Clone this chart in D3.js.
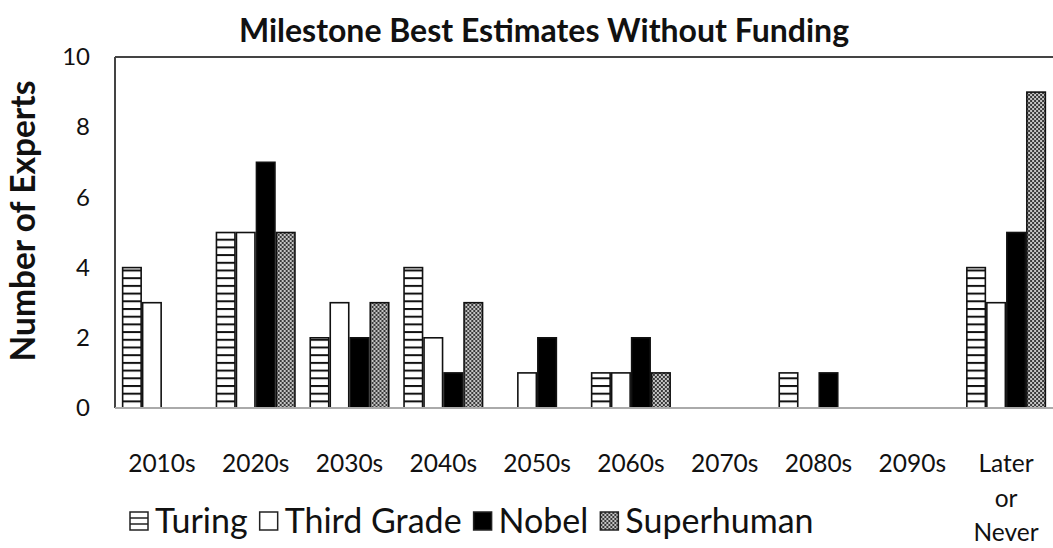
<!DOCTYPE html>
<html>
<head>
<meta charset="utf-8">
<script src="https://cdn.jsdelivr.net/npm/d3@7"></script>
<style>
  body { margin: 0; background: #fff; }
  svg { display: block; font-family: Lato, "Open Sans", sans-serif; }
</style>
</head>
<body>
<div id="chart"></div>
<script>
// chart values
let categories = ["2010s", "2020s", "2030s", "2040s", "2050s", "2060s", "2070s", "2080s", "2090s", "Later or Never"]
let seriesNames = ["Turing", "Third Grade", "Nobel", "Superhuman"]
let turing = [4, 5, 2, 4, 0, 1, 0, 1, 0, 4]
let thirdGrade = [3, 5, 3, 2, 1, 1, 0, 0, 0, 3]
let nobel = [0, 7, 2, 1, 2, 2, 0, 1, 0, 5]
let superhuman = [0, 5, 3, 3, 0, 1, 0, 0, 0, 9]
let yTicks = [0, 2, 4, 6, 8, 10]

const width = 1053, height = 548;
const plotLeft = 115, plotRight = 1053, plotTop = 57, plotBottom = 408;

let seriesValues = [turing, thirdGrade, nobel, superhuman];

let svg = d3.select('#chart')
  .append('svg')
    .attr('width', width)
    .attr('height', height);

// patterns for the fills
let defs = svg.append('defs');
let stripes = defs.append('pattern')
  .attr('id', 'stripes')
  .attr('patternUnits', 'userSpaceOnUse')
  .attr('width', 8).attr('height', 7.7);
stripes.append('rect').attr('width', 8).attr('height', 7.7).attr('fill', '#fff');
stripes.append('rect').attr('y', 0).attr('width', 8).attr('height', 2).attr('fill', '#111');

let checks = defs.append('pattern')
  .attr('id', 'checks')
  .attr('patternUnits', 'userSpaceOnUse')
  .attr('width', 4).attr('height', 4);
checks.append('rect').attr('width', 4).attr('height', 4).attr('fill', '#c4c4c4');
checks.append('rect').attr('width', 2).attr('height', 2).attr('fill', '#3a3a3a');
checks.append('rect').attr('x', 2).attr('y', 2).attr('width', 2).attr('height', 2).attr('fill', '#3a3a3a');

let fills = ["url(#stripes)", "#fff", "#000", "url(#checks)"];

let x0 = d3.scaleBand()
  .domain(categories)
  .range([plotLeft, plotRight])
  .paddingInner(0.147)
  .paddingOuter(0.0735);

let x1 = d3.scaleBand()
  .domain(seriesNames)
  .range([0, x0.bandwidth()]);

let y = d3.scaleLinear()
  .domain([0, 10])
  .range([plotBottom, plotTop]);

// frame: top and left dark, bottom axis gray
svg.append('line')
  .attr('x1', plotLeft).attr('x2', plotRight)
  .attr('y1', y(10)).attr('y2', y(10))
  .attr('stroke', '#444').attr('stroke-width', 2);
svg.append('line')
  .attr('x1', plotLeft).attr('x2', plotLeft)
  .attr('y1', y(10)).attr('y2', y(0))
  .attr('stroke', '#444').attr('stroke-width', 2);

// bars
let groups = svg.selectAll('.group')
  .data(categories)
  .enter()
  .append('g')
    .attr('class', 'group')
    .attr('transform', d => 'translate(' + x0(d) + ',0)');

groups.selectAll('rect')
  .data((d, i) => seriesNames.map((s, j) => ({ series: s, j: j, value: seriesValues[j][i] })).filter(d => d.value > 0))
  .enter()
  .append('rect')
    .attr('x', d => x1(d.series) + 0.75)
    .attr('y', d => y(d.value))
    .attr('width', x1.bandwidth() - 1.5)
    .attr('height', d => y(0) - y(d.value))
    .attr('fill', d => fills[d.j])
    .attr('stroke', '#111')
    .attr('stroke-width', 1.6);

// x axis line
svg.append('line')
  .attr('x1', plotLeft).attr('x2', plotRight)
  .attr('y1', y(0)).attr('y2', y(0))
  .attr('stroke', '#aaa').attr('stroke-width', 2);

// y axis labels
let yAxis = svg.append('g')
  .attr('transform', 'translate(' + plotLeft + ',0)')
  .call(d3.axisLeft(y).tickValues(yTicks).tickSize(0).tickPadding(25));
yAxis.select('.domain').remove();
yAxis.selectAll('text')
  .attr('font-family', 'Lato, sans-serif')
  .attr('font-size', 24)
  .attr('fill', '#111');

// x labels (wrapped where too wide)
let xLabels = svg.append('g');
categories.forEach(function(c) {
  let words = c.length > 6 ? c.split(' ') : [c];
  let t = xLabels.append('text')
    .attr('x', x0(c) + x0.bandwidth() / 2)
    .attr('y', 472)
    .attr('text-anchor', 'middle')
    .attr('font-size', 24.5)
    .attr('fill', '#111');
  words.forEach(function(w, k) {
    t.append('tspan')
      .attr('x', x0(c) + x0.bandwidth() / 2)
      .attr('dy', k === 0 ? 0 : 34.5)
      .text(w);
  });
});

// title
svg.append('text')
  .attr('x', 544)
  .attr('y', 42)
  .attr('text-anchor', 'middle')
  .attr('font-weight', 'bold')
  .attr('font-size', 32)
  .attr('fill', '#111')
  .text('Milestone Best Estimates Without Funding');

// y title
svg.append('text')
  .attr('transform', 'translate(35,' + 221 + ') rotate(-90)')
  .attr('text-anchor', 'middle')
  .attr('font-weight', 'bold')
  .attr('font-size', 33.5)
  .attr('fill', '#111')
  .text('Number of Experts');

// legend
let legendX = 130;
let legendY = 521;
let swatch = 18;
seriesNames.forEach(function(s, j) {
  let g = svg.append('g').attr('transform', 'translate(' + legendX + ',' + (legendY - swatch / 2) + ')');
  g.append('rect')
    .attr('width', swatch).attr('height', swatch)
    .attr('fill', j === 0 ? '#fff' : fills[j])
    .attr('stroke', '#222').attr('stroke-width', 1.5);
  if (j === 0) {
    [swatch / 3, 2 * swatch / 3].forEach(function(yy) {
      g.append('line')
        .attr('x1', 0).attr('x2', swatch)
        .attr('y1', yy).attr('y2', yy)
        .attr('stroke', '#222').attr('stroke-width', 1.5);
    });
  }
  let txt = svg.append('text')
    .attr('x', legendX + swatch + 7)
    .attr('y', legendY + 12)
    .attr('font-size', 34)
    .attr('fill', '#111')
    .text(s);
  legendX += swatch + 7 + txt.node().getComputedTextLength() + 12;
});
</script>
</body>
</html>
